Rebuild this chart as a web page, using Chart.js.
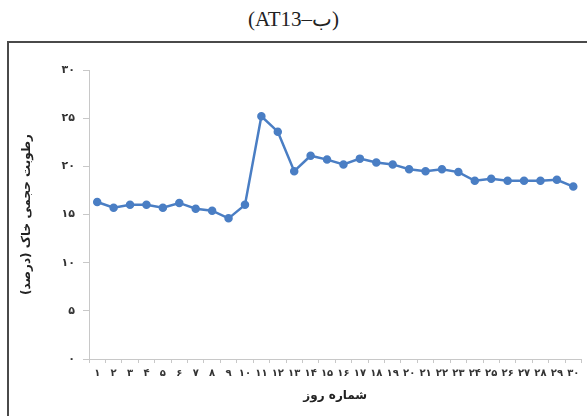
<!DOCTYPE html>
<html>
<head>
<meta charset="utf-8">
<script src="https://cdn.jsdelivr.net/npm/chart.js@4"></script>
<style>
    body { margin: 0; background: #fff; }
    #wrap { position: relative; width: 587px; height: 416px; overflow: hidden; }
    #title { position: absolute; left: 0; top: 7px; width: 587px; text-align: center;
             font-family: "Liberation Serif", serif; font-size: 21px; color: #222; }
    #frame { position: absolute; left: 7px; top: 41px; width: 600px; height: 400px;
             border: 2px solid #4a4a4a; box-sizing: border-box; }
    #chart { position: absolute; left: 0; top: 0; }
</style>
</head>
<body>
<div id="wrap">
    <div id="title">(AT13–ب)</div>
    <div id="frame"></div>
    <canvas id="chart" width="587" height="416"></canvas>
</div>
<script>
// days 1..30 (Persian digits)
const days = ['۱','۲','۳','۴','۵','۶','۷','۸','۹','۱۰','۱۱','۱۲','۱۳','۱۴','۱۵',
              '۱۶','۱۷','۱۸','۱۹','۲۰','۲۱','۲۲','۲۳','۲۴','۲۵','۲۶','۲۷','۲۸','۲۹','۳۰'];
// soil moisture (%)
const moisture = [16.3, 15.7, 16.0, 16.0, 15.7, 16.2, 15.6, 15.4, 14.6, 16.0,
                  25.2, 23.6, 19.5, 21.1, 20.7, 20.2, 20.8, 20.4, 20.2, 19.7,
                  19.5, 19.7, 19.4, 18.5, 18.7, 18.5, 18.5, 18.5, 18.6, 17.9];
const yTicks = ['۰','۵','۱۰','۱۵','۲۰','۲۵','۳۰'];
const yTitle = 'رطوبت حجمی خاک (درصد)';
const xTitle = 'شماره روز';

const blue = '#4a7ec4';
const ctx = document.getElementById('chart').getContext('2d');
new Chart(ctx, {
    type: 'line',
    data: {
        labels: days,
        datasets: [{
            data: moisture,
            borderColor: blue,
            backgroundColor: blue,
            borderWidth: 2.5,
            pointRadius: 3,
            pointHoverRadius: 3,
            tension: 0
        }]
    },
    options: {
        responsive: false,
        animation: false,
        layout: { padding: { top: 70, right: 1, left: 20, bottom: 13 } },
        plugins: { legend: { display: false }, tooltip: { enabled: false } },
        scales: {
            x: {
                offset: true,
                grid: { offset: true, drawOnChartArea: false, tickLength: 4, color: '#c8c8c8' },
                border: { color: '#c8c8c8' },
                ticks: { color: '#333', font: { family: 'DejaVu Sans', size: 10, weight: 'bold' },
                         maxRotation: 0, autoSkip: false, padding: 4 },
                title: { display: true, text: xTitle, color: '#222',
                         font: { family: 'DejaVu Sans', size: 12, weight: 'bold' }, padding: { top: 2, bottom: 0 } },
                afterFit: (s) => { s.height = 44; }
            },
            y: {
                min: 0, max: 30,
                grid: { drawOnChartArea: false, tickLength: 6, color: '#c8c8c8' },
                border: { color: '#c8c8c8' },
                ticks: { stepSize: 5, color: '#333', padding: 8,
                         font: { family: 'DejaVu Sans', size: 11, weight: 'bold' },
                         callback: (v, i) => yTicks[i] },
                title: { display: true, text: yTitle, color: '#222',
                         font: { family: 'DejaVu Sans', size: 12, weight: 'bold' }, padding: { top: 0, bottom: 0 } },
                afterFit: (s) => { s.width = 69; }
            }
        }
    }
});
</script>
</body>
</html>
